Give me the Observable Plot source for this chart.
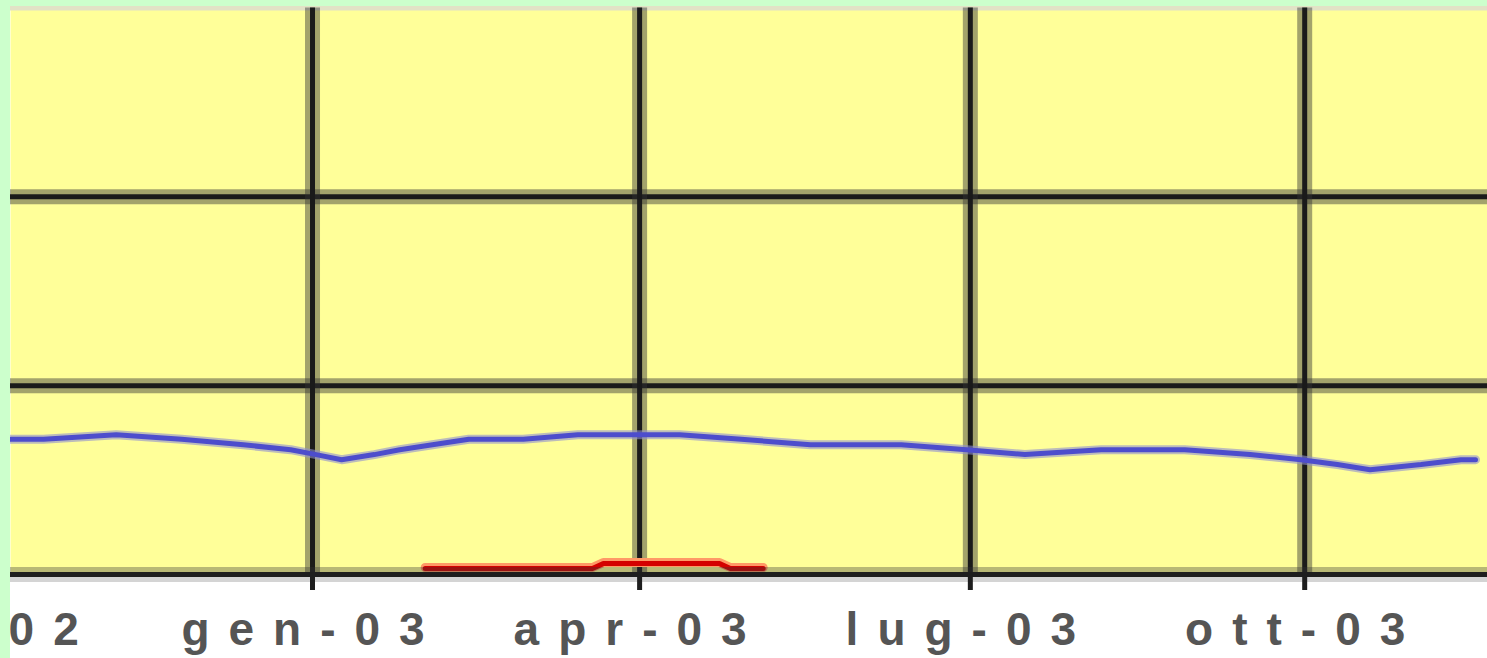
<!DOCTYPE html>
<html><head><meta charset="utf-8">
<script src="https://cdn.jsdelivr.net/npm/d3@7"></script>
<script src="https://cdn.jsdelivr.net/npm/@observablehq/plot@0.6"></script>
<style>
html,body{margin:0;padding:0;background:#ccffcc;overflow:hidden;width:1487px;height:658px;}
#chart{position:absolute;left:10px;top:6px;}
#chart svg{overflow:hidden;background:#ffffff;display:block;}
#chart svg text{letter-spacing:19px;}
</style></head><body><div id="chart"></div>
<script>
// Blue series
const blueDates = ["2002-10-10","2002-10-19","2002-11-08","2002-11-26","2002-12-13","2002-12-26",
  "2003-01-02","2003-01-09","2003-01-18","2003-01-25","2003-02-03","2003-02-13","2003-02-28",
  "2003-03-15","2003-04-12","2003-04-29","2003-05-18","2003-06-12","2003-06-30","2003-07-16",
  "2003-08-06","2003-08-29","2003-09-16","2003-09-30","2003-10-10","2003-10-19","2003-11-02",
  "2003-11-13","2003-11-17"];
const blueValues = [0.716,0.716,0.740,0.716,0.687,0.661,
  0.635,0.608,0.635,0.661,0.687,0.716,0.716,
  0.740,0.740,0.716,0.687,0.687,0.661,0.635,
  0.661,0.661,0.635,0.608,0.582,0.555,0.582,
  0.608,0.608];
// Red series
const redDates = ["2003-02-01","2003-03-19","2003-03-22","2003-04-23","2003-04-26","2003-05-05"];
const redValues = [0.037,0.037,0.063,0.063,0.037,0.037];
// Axis ticks
const tickDates = ["2002-10-01","2003-01-01","2003-04-01","2003-07-01","2003-10-01","2004-01-01"];
const tickLabels = ["ott-02","gen-03","apr-03","lug-03","ott-03","gen-04"];
const gridValues = [1, 2];
const topValue = [3];

const blue = blueDates.map((d, i) => ({date: new Date(d), value: blueValues[i]}));
const red = redDates.map((d, i) => ({date: new Date(d), value: redValues[i]}));
const ticks = tickDates.map(d => new Date(d));
const labelOf = new Map(ticks.map((t, i) => [+t, tickLabels[i]]));
const day = 864e5;
const jan1 = Date.UTC(2003, 0, 1);

const chart = Plot.plot({
  width: 1477,
  height: 652,
  marginLeft: 0,
  marginRight: 0,
  marginTop: 1.5,
  marginBottom: 84,
  x: {type: "utc", domain: [new Date(jan1 - 83.1 * day), new Date(jan1 + 323.3 * day)]},
  y: {domain: [0, 3], axis: null},
  marks: [
    Plot.frame({fill: "#ffff99", stroke: null}),
    Plot.ruleY(topValue, {stroke: "#e2e2c6", strokeWidth: 5}),
    Plot.ruleY(gridValues, {stroke: "#333", strokeOpacity: 0.45, strokeWidth: 15}),
    Plot.ruleY(gridValues, {stroke: "#1a1a1a", strokeWidth: 5}),
    Plot.ruleX(ticks.slice(1, 5), {stroke: "#333", strokeOpacity: 0.45, strokeWidth: 15}),
    Plot.ruleX(ticks.slice(1, 5), {stroke: "#1a1a1a", strokeWidth: 5}),
    Plot.line(blue, {x: "date", y: "value", stroke: "#8f8fd0", strokeWidth: 9, strokeOpacity: 0.6}),
    Plot.line(blue, {x: "date", y: "value", stroke: "#4d4dcc", strokeWidth: 5}),
    Plot.line(red, {x: "date", y: "value", stroke: "#ff9966", strokeWidth: 9}),
    Plot.line(red, {x: "date", y: "value", stroke: "#d40000", strokeWidth: 5, dy: 1}),
    Plot.ruleY([0], {stroke: "#d4d4d4", strokeWidth: 5, dy: 5}),
    Plot.ruleY([0], {stroke: "#333", strokeOpacity: 0.35, strokeWidth: 5, dy: -5}),
    Plot.ruleY([0], {stroke: "#1e1e1e", strokeWidth: 5}),
    Plot.axisX({
      ticks: ticks,
      tickFormat: d => labelOf.get(+d),
      tickSize: 16,
      tickPadding: 22,
      strokeWidth: 5,
      stroke: "#1e1e1e",
      fontSize: 46,
      fontWeight: "bold",
      fontFamily: "Liberation Sans, Arial, sans-serif",
      fill: "#555",
      label: null
    })
  ]
});
document.getElementById("chart").appendChild(chart);
</script>
</body></html>
